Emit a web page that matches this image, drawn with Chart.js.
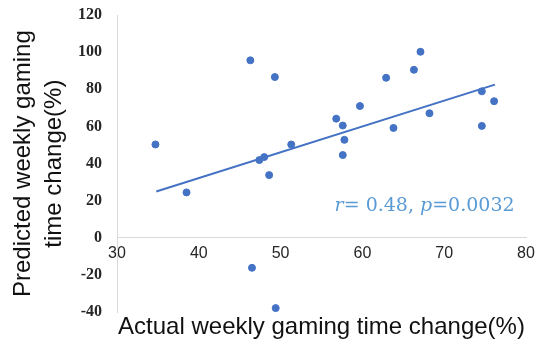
<!DOCTYPE html>
<html>
<head>
<meta charset="utf-8">
<script src="https://cdn.jsdelivr.net/npm/chart.js@4"></script>
<style>
  html, body { margin: 0; padding: 0; background: #fff; }
  #wrap { width: 538px; height: 351px; }
</style>
</head>
<body>
<div id="wrap"><canvas id="scatter"></canvas></div>
<script>
// actual vs predicted weekly gaming time change (%)
const actualChange = [34.7, 38.5, 46.3, 46.5, 49.3, 47.4, 48.0, 48.6, 49.4, 51.3,
  56.8, 57.6, 57.8, 57.6, 59.7, 62.9, 63.8, 66.3, 67.1, 68.2, 74.6, 74.6, 76.1];
const predictedChange = [50.3, 24.5, 95.6, -16.1, 86.6, 41.9, 43.5, 33.8, -37.8, 50.3,
  64.2, 60.5, 52.8, 44.6, 71.0, 86.2, 59.2, 90.5, 100.2, 67.1, 78.9, 60.3, 73.6];

// linear trendline ends
const trendX = [34.8, 76.2];
const trendY = [25.0, 82.5];

const xTicks = [30, 40, 50, 60, 70, 80];
const yTicks = [-40, -20, 0, 20, 40, 60, 80, 100, 120];

const statsLabel = [['r', true], ['= 0.48, ', false], ['p', true], ['=0.0032', false]];

const blue = '#4472C4';
const axisGray = '#d9d9d9';

const points = actualChange.map((x, i) => ({x: x, y: predictedChange[i]}));
const trend = trendX.map((x, i) => ({x: x, y: trendY[i]}));

// draws "r= 0.48, p=0.0032" inside the plot, r and p in italics
const statsText = {
  id: 'statsText',
  afterDatasetsDraw(chart) {
    const ctx = chart.ctx;
    const xs = chart.scales.x, ys = chart.scales.y;
    let px = xs.getPixelForValue(56.6);
    const py = ys.getPixelForValue(17.2);
    ctx.save();
    ctx.fillStyle = '#5B9BD5';
    ctx.textBaseline = 'middle';
    statsLabel.forEach(([txt, italic]) => {
      ctx.font = (italic ? 'italic ' : '') + '19px "DejaVu Serif"';
      ctx.fillText(txt, px, py);
      px += ctx.measureText(txt).width;
    });
    ctx.restore();
  }
};

new Chart(document.getElementById('scatter'), {
  type: 'scatter',
  data: {
    datasets: [
      {
        label: 'Participants',
        data: points,
        backgroundColor: blue,
        borderColor: blue,
        pointRadius: 3.5,
        pointHoverRadius: 3.5
      },
      {
        label: 'Trend',
        data: trend,
        showLine: true,
        borderColor: blue,
        borderWidth: 2,
        pointRadius: 0,
        fill: false
      }
    ]
  },
  options: {
    responsive: true,
    maintainAspectRatio: false,
    animation: false,
    layout: { padding: { top: 15, right: 12, left: 0, bottom: 0 } },
    scales: {
      x: {
        type: 'linear',
        position: { y: 0 },
        min: 30,
        max: 80,
        afterBuildTicks: (s) => { s.ticks = xTicks.map(v => ({value: v})); },
        afterFit: (s) => { s.paddingLeft = 0; s.paddingRight = 0; },
        grid: { drawOnChartArea: false, drawTicks: false },
        border: { color: axisGray, width: 1 },
        ticks: {
          padding: 6,
          color: '#262626',
          font: { family: '"Liberation Sans"', size: 16 }
        }
      },
      y: {
        type: 'linear',
        position: 'left',
        min: -40,
        max: 120,
        afterBuildTicks: (s) => { s.ticks = yTicks.map(v => ({value: v})); },
        afterFit: (s) => { s.width = 117; s.paddingTop = 0; s.paddingBottom = 0; },
        grid: { drawOnChartArea: false, drawTicks: false },
        border: { color: axisGray, width: 1 },
        ticks: {
          padding: 15,
          color: '#262626',
          font: { family: '"Liberation Serif"', size: 16, weight: 'bold' }
        },
        title: {
          display: true,
          text: ['Predicted weekly gaming', 'time change(%)'],
          color: '#111',
          padding: { top: 8 },
          font: { family: '"Liberation Sans"', size: 24, lineHeight: 1.3 }
        }
      }
    },
    plugins: {
      legend: { display: false },
      tooltip: { enabled: false },
      title: {
        display: true,
        position: 'bottom',
        fullSize: false,
        text: 'Actual weekly gaming time change(%)',
        color: '#111',
        padding: { top: 1, bottom: 9 },
        font: { family: '"Liberation Sans"', size: 24, weight: 'normal', lineHeight: 1.2 }
      }
    }
  },
  plugins: [statsText]
});
</script>
</body>
</html>
